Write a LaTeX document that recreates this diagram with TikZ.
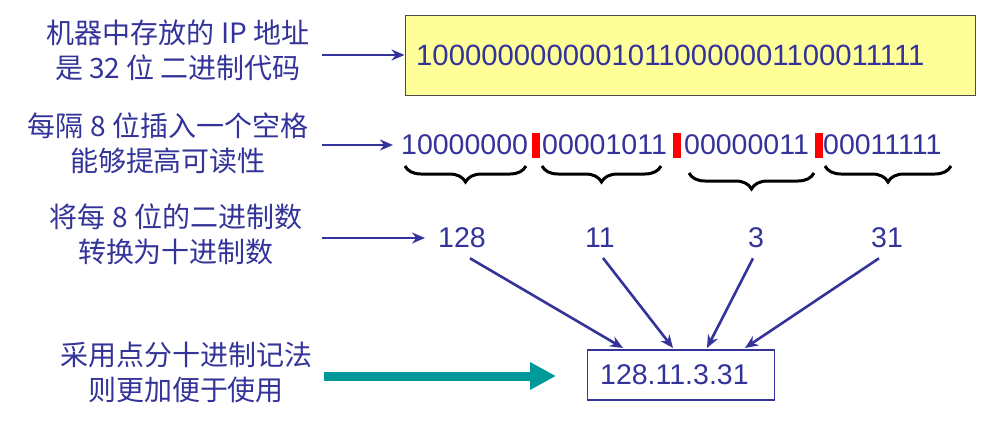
\documentclass[tikz,border=0pt]{standalone}
\usepackage{fontspec}
\setmainfont{Liberation Sans}
\newfontfamily\cjk{Noto Sans CJK SC}
\usetikzlibrary{arrows.meta,decorations.pathreplacing}
\definecolor{tblue}{HTML}{333399}
\definecolor{teal2}{HTML}{009999}
\definecolor{lyel}{HTML}{FFFF99}
\begin{document}
\begin{tikzpicture}[x=1pt,y=-1pt,
  lab/.style={text=tblue,font=\cjk\fontsize{28}{35}\selectfont,align=center},
  num/.style={text=tblue,font=\fontsize{28.5}{32}\selectfont,inner sep=0pt},
  arr/.style={draw=tblue,line width=2.6pt,-{Stealth[length=13pt,width=11pt]}},
  brc/.style={draw=black,line width=3pt,decorate,decoration={brace,mirror,amplitude=16pt}},
  redbar/.style={fill=red,draw=none}]
\useasboundingbox (0,0) rectangle (994,424);
% row 1
\node[lab] (t1) at (178,50) {机器中存放的 IP 地址\\是 32 位 二进制代码};
\node[draw=black!70,fill=lyel,line width=1pt,minimum width=570pt,minimum height=80pt,inner sep=0pt] (box1) at (690,55) {};
\node[num,anchor=west,font=\fontsize{29.3}{32}\selectfont] (bin) at (416,55) {10000000000010110000001100011111};
\coordinate (a1s) at (322,55);
\draw[arr] (a1s) -- (box1.west);
% row 2
\node[lab] (t2) at (168,143) {每隔 8 位插入一个空格\\能够提高可读性};
\node[num,anchor=west] (g1) at (401,145) {10000000};
\node[num,anchor=west] (g2) at (542,145) {00001011};
\node[num,anchor=west] (g3) at (684,145) {00000011};
\node[num,anchor=west] (g4) at (823,145) {00011111};
\fill[redbar] (532,133) rectangle (540,158);
\fill[redbar] (673,133) rectangle (681,158);
\fill[redbar] (815,133) rectangle (823,158);
\coordinate (a2s) at (322,145);
\coordinate (a2e) at (393,145);
\draw[arr] (a2s) -- (a2e);
\coordinate (b1a) at (405,166); \coordinate (b1b) at (526,166);
\coordinate (b2a) at (542,166); \coordinate (b2b) at (661,166);
\coordinate (b3a) at (689,173); \coordinate (b3b) at (814,173);
\coordinate (b4a) at (825,166); \coordinate (b4b) at (951,166);
\draw[brc] (b1a) -- (b1b);
\draw[brc] (b2a) -- (b2b);
\draw[brc] (b3a) -- (b3b);
\draw[brc] (b4a) -- (b4b);
% row 3
\node[lab] (t3) at (176,234) {将每 8 位的二进制数\\转换为十进制数};
\node[num] (n1) at (462,238) {128};
\node[num] (n2) at (600,238) {11};
\node[num] (n3) at (756,238) {3};
\node[num] (n4) at (887,238) {31};
\coordinate (a3s) at (322,238);
\coordinate (a3e) at (425,238);
\draw[arr] (a3s) -- (a3e);
% row 4
\node[lab] (t4) at (186,372) {采用点分十进制记法\\则更加便于使用};
\node[draw=tblue,line width=1.2pt,minimum width=187pt,minimum height=50pt,inner sep=0pt] (box2) at (681,375) {};
\node[num,anchor=west] (dot) at (600,375) {128.11.3.31};
\coordinate (p1) at (623,348); \coordinate (p2) at (673,348);
\coordinate (p3) at (707,348); \coordinate (p4) at (745,348);
\draw[arr] (n1.south) ++(8,10) -- (p1);
\draw[arr] (n2.south) ++(3,10) -- (p2);
\draw[arr] (n3.south) ++(-3,10) -- (p3);
\draw[arr] (n4.south) ++(-8,10) -- (p4);
\coordinate (a4s) at (324,376);
\coordinate (a4e) at (556,376);
\draw[draw=teal2,line width=9pt,-{Triangle[length=26pt,width=26pt]}] (a4s) -- (a4e);
\end{tikzpicture}
\end{document}
